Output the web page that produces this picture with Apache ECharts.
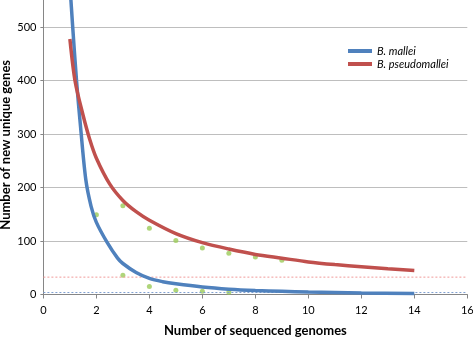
<!DOCTYPE html>
<html>
<head>
<meta charset="utf-8">
<script src="https://cdn.jsdelivr.net/npm/echarts@6/dist/echarts.min.js"></script>
<style>
    html, body { margin: 0; padding: 0; background: #fff; }
    #main { width: 473px; height: 339px; }
</style>
</head>
<body>
<div id="main"></div>
<script>
    // curve readings (genomes -> new unique genes)
    var malleiX = [1, 1.1, 1.25, 1.4, 1.6, 1.8, 2, 2.4, 2.8, 3, 3.5, 4, 4.5, 5, 6, 7, 8, 9, 10, 12, 14];
    var malleiY = [580, 505, 400, 315, 215, 165, 135, 98, 68, 58, 41, 30, 24, 20, 14, 10, 7.5, 6, 4.5, 3, 2];
    var pseudoX = [1, 1.2, 1.5, 1.75, 2, 2.5, 3, 3.5, 4, 5, 6, 7, 8, 9, 10, 11, 12, 13, 14];
    var pseudoY = [478, 398, 335, 290, 255, 207, 176, 155, 139, 114, 97, 85, 75, 68, 61, 56, 52, 48, 45];
    // observed points
    var obsX = [2, 3, 4, 5, 6, 7, 8, 9, 3, 4, 5, 6, 7];
    var obsY = [149, 166, 124, 101, 87, 77, 70, 64, 36, 15, 8, 6, 4];
    // asymptotes
    var pseudoFloor = 32.5;
    var malleiFloor = 3.7;
    var xTicks = [0, 16, 2];
    var yTicks = [0, 560, 100];

    function pairs(xs, ys) {
        return xs.map(function (x, i) { return [x, ys[i]]; });
    }

    var chart = echarts.init(document.getElementById('main'));
    var font = 'Lato, "Open Sans", sans-serif';
    var option = {
        animation: false,
        textStyle: { fontFamily: font },
        grid: {
            left: 43.4, right: 5.7, top: -4.8, bottom: 44.5,
            containLabel: false,
            outerBoundsMode: 'none'
        },
        legend: {
            orient: 'vertical',
            left: 343,
            top: 40.5,
            itemWidth: 24,
            itemHeight: 4,
            itemGap: 2,
            icon: 'rect',
            data: ['B. mallei', 'B. pseudomallei'],
            textStyle: { fontFamily: font, fontStyle: 'italic', fontSize: 11, color: '#000', padding: [0, 0, 0, 0] }
        },
        xAxis: {
            type: 'value',
            min: xTicks[0], max: xTicks[1], interval: xTicks[2],
            name: 'Number of sequenced genomes',
            nameLocation: 'middle',
            nameGap: 30,
            nameMoveOverlap: false,
            nameTextStyle: { fontFamily: font, fontWeight: 'bold', fontSize: 13, color: '#000' },
            axisLine: { lineStyle: { color: '#868686' } },
            axisTick: { length: 4, lineStyle: { color: '#868686' } },
            axisLabel: { color: '#000', fontSize: 11, margin: 10 },
            splitLine: { show: false }
        },
        yAxis: {
            type: 'value',
            min: yTicks[0], max: yTicks[1], interval: yTicks[2],
            name: 'Number of new unique genes',
            nameLocation: 'middle',
            nameGap: 31,
            nameMoveOverlap: false,
            nameTextStyle: { fontFamily: font, fontWeight: 'bold', fontSize: 13, color: '#000' },
            axisLine: { show: true, lineStyle: { color: '#868686' } },
            axisTick: { show: true, length: 3, lineStyle: { color: '#868686' } },
            axisLabel: { color: '#000', fontSize: 11, margin: 7, showMaxLabel: false },
            splitLine: { lineStyle: { color: '#BEBEBE' } }
        },
        series: [
            {
                name: 'pseudo floor',
                type: 'line',
                data: [[xTicks[0], pseudoFloor], [xTicks[1], pseudoFloor]],
                symbol: 'none',
                silent: true,
                lineStyle: { color: '#F09A98', width: 1, type: [2, 2] }
            },
            {
                name: 'mallei floor',
                type: 'line',
                data: [[xTicks[0], malleiFloor], [xTicks[1], malleiFloor]],
                symbol: 'none',
                silent: true,
                lineStyle: { color: '#7F9FD0', width: 1, type: [2, 2] }
            },
            {
                name: 'observed',
                type: 'scatter',
                data: pairs(obsX, obsY),
                symbolSize: 5,
                itemStyle: { color: '#9BCB59' }
            },
            {
                name: 'B. mallei',
                type: 'line',
                data: pairs(malleiX, malleiY),
                smooth: 0.3,
                symbol: 'none',
                clip: true,
                lineStyle: { color: '#4F81BD', width: 3.5 },
                itemStyle: { color: '#4F81BD' }
            },
            {
                name: 'B. pseudomallei',
                type: 'line',
                data: pairs(pseudoX, pseudoY),
                smooth: 0.3,
                symbol: 'none',
                lineStyle: { color: '#C0504D', width: 3.5 },
                itemStyle: { color: '#C0504D' }
            }
        ]
    };
    chart.setOption(option);
</script>
</body>
</html>
